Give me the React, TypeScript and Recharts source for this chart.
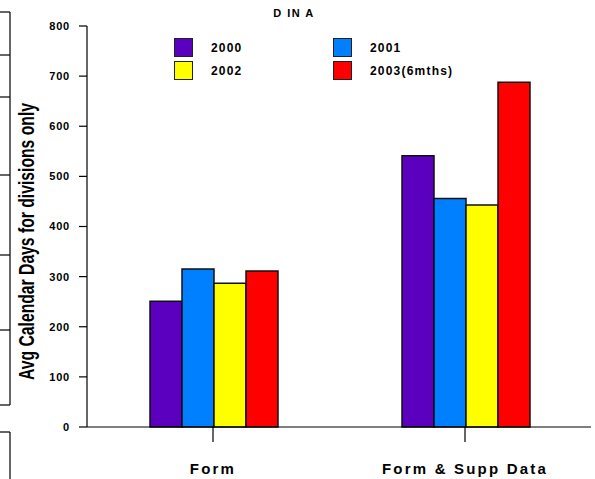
import { BarChart, Bar, XAxis, YAxis } from 'recharts'

const categories = ['Form', 'Form & Supp Data']
const series2000 = [251, 541]
const series2001 = [315, 456]
const series2002 = [287, 443]
const series2003 = [311, 688]
const yTicks = [0, 100, 200, 300, 400, 500, 600, 700, 800]

const seriesInfo = [
  { key: 'y2000', name: '2000', color: '#5b00bf' },
  { key: 'y2001', name: '2001', color: '#0080ff' },
  { key: 'y2002', name: '2002', color: '#ffff00' },
  { key: 'y2003', name: '2003(6mths)', color: '#ff0000' },
]

const data = categories.map((c, i) => ({
  category: c,
  y2000: series2000[i],
  y2001: series2001[i],
  y2002: series2002[i],
  y2003: series2003[i],
}))

const FONT = 'Arial, "Liberation Sans", Helvetica, sans-serif'

// legend sits inside the plot area, two columns
function LegendBox() {
  const cols = [
    [seriesInfo[0], seriesInfo[2]],
    [seriesInfo[1], seriesInfo[3]],
  ]
  return (
    <div style={{ position: 'absolute', left: 0, top: 0, width: 595, height: 100, pointerEvents: 'none' }}>
      {cols.map((col, ci) =>
        col.map((s, ri) => (
          <div
            key={s.key}
            style={{
              position: 'absolute',
              left: ci === 0 ? 174 : 333,
              top: 38 + ri * 23,
              display: 'flex',
              alignItems: 'center',
            }}
          >
            <div style={{ width: 17, height: 17, background: s.color, border: '1.5px solid #222' }} />
            <span
              style={{
                marginLeft: 18,
                fontFamily: FONT,
                fontWeight: 'bold',
                fontSize: 12,
                letterSpacing: 1.2,
                color: '#000',
              }}
            >
              {s.name}
            </span>
          </div>
        ))
      )}
    </div>
  )
}

function XTick(props: any) {
  const { x, y, payload } = props
  return (
    <text
      x={x}
      y={y + 30}
      textAnchor="middle"
      fontFamily={FONT}
      fontWeight="bold"
      fontSize={15}
      letterSpacing={2.2}
      fill="#000"
    >
      {payload.value}
    </text>
  )
}

export default function App() {
  return (
    <div style={{ position: 'absolute', left: 0, top: 0, width: 595, height: 479, background: '#fff' }}>
      <svg width={595} height={479} style={{ position: 'absolute', left: 0, top: 0 }}>
        <g stroke="#000" strokeWidth={1.2} fill="none">
          <line x1={10} y1={12} x2={10} y2={405} />
          {[12, 55, 97, 175, 255, 330, 405].map(y => (
            <line key={y} x1={0} y1={y} x2={10} y2={y} />
          ))}
          <line x1={0} y1={432} x2={10} y2={432} />
          <line x1={10} y1={432} x2={10} y2={479} />
        </g>
        <text
          x={294}
          y={17}
          textAnchor="middle"
          fontFamily={FONT}
          fontWeight="bold"
          fontSize={11}
          letterSpacing={1.5}
          fill="#000"
        >
          D IN A
        </text>
        <text
          x={34}
          y={380}
          transform="rotate(-90 34 380)"
          fontFamily={FONT}
          fontWeight="bold"
          fontSize={22}
          textLength={277}
          lengthAdjust="spacingAndGlyphs"
          fill="#000"
        >
          Avg Calendar Days for divisions only
        </text>
      </svg>
      <div style={{ position: 'absolute', left: 0, top: 0 }}>
        <BarChart
          width={595}
          height={479}
          data={data}
          margin={{ top: 26, right: 4, bottom: 7, left: 0 }}
          barGap={0}
          barCategoryGap="25%"
        >
          <XAxis
            dataKey="category"
            height={45}
            axisLine={{ stroke: '#000', strokeWidth: 1.2 }}
            tickLine={{ stroke: '#000', strokeWidth: 1.2 }}
            tickSize={15}
            tick={<XTick />}
            interval={0}
          />
          <YAxis
            domain={[0, 800]}
            ticks={yTicks}
            width={87}
            axisLine={{ stroke: '#000', strokeWidth: 1.2 }}
            tickLine={{ stroke: '#000', strokeWidth: 1.2 }}
            tickSize={8}
            tickMargin={9}
            tick={{ fontFamily: FONT, fontWeight: 'bold', fontSize: 11, fill: '#000', letterSpacing: 0.8 }}
          />
          {seriesInfo.map(s => (
            <Bar
              key={s.key}
              dataKey={s.key}
              name={s.name}
              fill={s.color}
              stroke="#111"
              strokeWidth={1.5}
              isAnimationActive={false}
            />
          ))}
        </BarChart>
      </div>
      <LegendBox />
    </div>
  )
}
